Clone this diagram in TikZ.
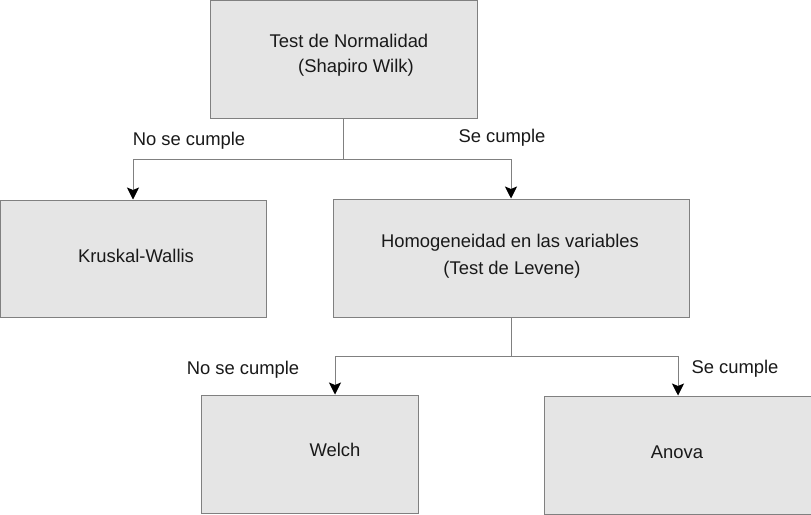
\documentclass[tikz,border=0pt]{standalone}
\usepackage{fontspec}
\setmainfont{Liberation Sans}
\usetikzlibrary{arrows.meta}
\begin{document}
\begin{tikzpicture}[x=1pt,y=-1pt,
  box/.style={draw=black!50,fill=black!10,line width=1pt,rectangle,inner sep=0pt},
  txt/.style={inner sep=0pt,text=black!90,font=\fontsize{18.4}{21}\selectfont},
  conn/.style={draw=black!50,line width=0.9pt},
  arr/.style={conn,-{Stealth[black,length=12pt,width=12pt,inset=2.5pt]}}
]
\useasboundingbox (0,0) rectangle (811,514);
\fill[white] (0,0) rectangle (811,514);
% boxes
\node[box,minimum width=267pt,minimum height=118pt] (top) at (343.5,59) {};
\node[box,minimum width=266pt,minimum height=117pt] (kw) at (133,258.5) {};
\node[box,minimum width=356pt,minimum height=118pt] (hom) at (511,258) {};
\node[box,minimum width=217pt,minimum height=118pt] (welch) at (309.5,454) {};
\node[box,minimum width=267pt,minimum height=118pt] (anova) at (678,455) {};
% texts
\node[txt] (t1) at (349,41) {Test de Normalidad};
\node[txt] (t2) at (356,68) {(Shapiro Wilk)};
\node[txt] (t3) at (136,256) {Kruskal-Wallis};
\node[txt] (t4) at (510,243) {Homogeneidad en las variables};
\node[txt] (t5) at (512,270) {(Test de Levene)};
\node[txt] (t6) at (335,450) {Welch};
\node[txt] (t7) at (677,452) {Anova};
% labels
\node[txt] (l1) at (189,141) {No se cumple};
\node[txt] (l2) at (502,138) {Se cumple};
\node[txt] (l3) at (243,370) {No se cumple};
\node[txt] (l4) at (735,369) {Se cumple};
% connectors
\draw[conn] (top.south) -- ++(0,41) coordinate (j1);
\draw[arr] (j1) -| (kw.north);
\draw[arr] (j1) -| (hom.north);
\draw[conn] (hom.south) -- ++(0,39) coordinate (j2);
\draw[arr] (j2) -| ([xshift=25.5pt]welch.north);
\draw[arr] (j2) -| (anova.north);
\end{tikzpicture}
\end{document}
